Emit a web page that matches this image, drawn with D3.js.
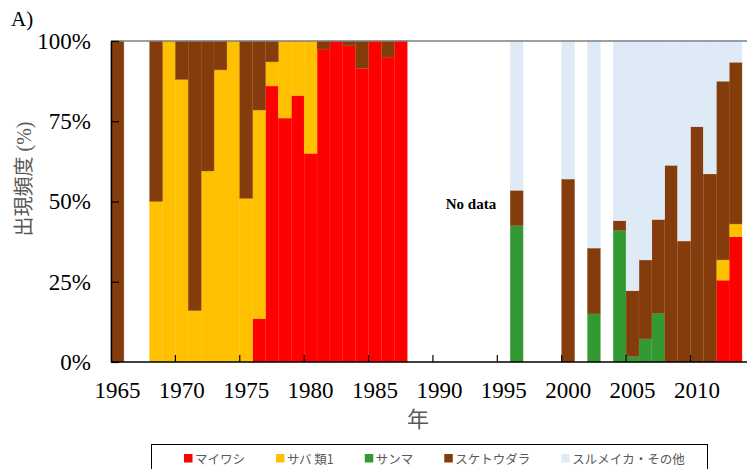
<!DOCTYPE html>
<html>
<head>
<meta charset="utf-8">
<script src="https://cdn.jsdelivr.net/npm/d3@7"></script>
<style>
  html, body { margin: 0; padding: 0; background: #fff; }
  svg { display: block; }
</style>
</head>
<body>
<svg id="chart" width="747" height="469"></svg>
<script>
// Survey years (one slot per year; null = no data that year)
const years = d3.range(1965, 2014);

// Share of appearance (%) by group, bottom of stack first
const maiwashi = [ // マイワシ
  null, null, null, null, null, null, null, null, null, null, null, 13.5, 86, 76, 83, 65, 97.5, 100, 98.5, 91.5, 100, 95, 100,
  null, null, null, null, null, null, null, null, null, null, null, null, null, null, null, null, null, null, null, null, null, null, null, null, 25.5, 39
];
const saba = [ // サバ類
  null, null, null, 50, 100, 88, 16, 59.5, 91, 100, 51, 65, 7.5, 24, 17, 35, null, null, null, null, null, null, null,
  null, null, null, null, null, null, null, null, null, null, null, null, null, null, null, null, null, null, null, null, null, null, null, null, 6.3, 4
];
const sanma = [ // サンマ
  null, null, null, null, null, null, null, null, null, null, null, null, null, null, null, null, null, null, null, null, null, null, null,
  null, null, null, null, null, null, null, null, 42.5, null, null, null, null, null, 15, null, 41, 1.7, 7.2, 15.2, null, null, null, null, null, null
];
const suketoudara = [ // スケトウダラ
  100, null, null, 50, null, 12, 84, 40.5, 9, null, 49, 21.5, 6.5, null, null, null, 2.5, null, 1.5, 8.5, null, 5, null,
  null, null, null, null, null, null, null, null, 11, null, null, null, 57, null, 20.5, null, 3, 20.5, 24.6, 29.2, 61.3, 37.7, 73.3, 58.6, 55.7, 50.4
];
const surumeika = [ // スルメイカ・その他
  null, null, null, null, null, null, null, null, null, null, null, null, null, null, null, null, null, null, null, null, null, null, null,
  null, null, null, null, null, null, null, null, 46.5, null, null, null, 43, null, 64.5, null, 56, 77.8, 68.2, 55.6, 38.7, 62.3, 26.7, 41.4, 12.5, 6.6
];

const seriesNames = ["マイワシ", "サバ 類1", "サンマ", "スケトウダラ", "スルメイカ・その他"];
const seriesValues = [maiwashi, saba, sanma, suketoudara, surumeika];
const seriesColors = ["#ff0000", "#ffc000", "#339933", "#843c0c", "#deebf7"];
const seriesEdges = ["#ff2a1a", "#ffc61a", "#5cb04a", "#9a5a2e", "#deebf7"];

const yTicks = [0, 25, 50, 75, 100];
const xLabelYears = [1965, 1970, 1975, 1980, 1985, 1990, 1995, 2000, 2005, 2010];
const xTickYears = [1970, 1975, 1980, 1985, 1990, 1995, 2000, 2005, 2010];

const svg = d3.select("#chart");
const plot = { left: 111, right: 742, top: 41, bottom: 362, lineEnd: 747 };

const x = d3.scaleBand().domain(years).range([plot.left, plot.right]).padding(0);
const y = d3.scaleLinear().domain([0, 100]).range([plot.bottom, plot.top]);

// Build the rows for d3.stack
const keys = seriesNames.map((_, i) => "s" + i);
const rows = years.map((yr, j) => {
  const r = { year: yr };
  keys.forEach((k, i) => { r[k] = seriesValues[i][j] || 0; });
  return r;
});
const stacked = d3.stack().keys(keys)(rows);

const serif = "'Liberation Serif', 'Times New Roman', serif";
const cjk = "'Noto Sans CJK JP', 'Noto Sans', sans-serif";

// Stacked bars
stacked.forEach((layer, i) => {
  svg.append("g")
    .selectAll("rect")
    .data(layer.filter(d => d[1] - d[0] > 0))
    .join("rect")
    .attr("x", d => x(d.data.year))
    .attr("width", x.bandwidth())
    .attr("y", d => y(d[1]))
    .attr("height", d => y(d[0]) - y(d[1]))
    .attr("fill", seriesColors[i])
    .attr("stroke", seriesEdges[i])
    .attr("stroke-width", 0.4);
});

// Top frame line
svg.append("line")
  .attr("x1", plot.left).attr("x2", plot.lineEnd)
  .attr("y1", plot.top).attr("y2", plot.top)
  .attr("stroke", "#7f7f7f").attr("stroke-width", 1.5);

// Y axis
const yAxis = svg.append("g")
  .attr("transform", `translate(${plot.left},0)`)
  .call(d3.axisLeft(y).tickValues(yTicks).tickFormat(d => d + "%")
    .tickSizeInner(-8).tickSizeOuter(0).tickPadding(20));
yAxis.select(".domain").attr("stroke", "#000").attr("stroke-width", 1.5);
yAxis.selectAll(".tick line").attr("stroke", "#000").attr("stroke-width", 1.2);
yAxis.selectAll("text").attr("font-family", serif).attr("font-size", 23).attr("fill", "#000");

// X axis labels (centred on each year's bar)
const xAxis = svg.append("g")
  .attr("transform", `translate(0,${plot.bottom})`)
  .call(d3.axisBottom(x).tickValues(xLabelYears).tickSize(0).tickPadding(20));
xAxis.select(".domain").remove();
xAxis.selectAll("text").attr("font-family", serif).attr("font-size", 23).attr("fill", "#000");

// Baseline
svg.append("line")
  .attr("x1", plot.left).attr("x2", plot.lineEnd)
  .attr("y1", plot.bottom).attr("y2", plot.bottom)
  .attr("stroke", "#000").attr("stroke-width", 1.5);

// X tick marks at every fifth year boundary, pointing inward
svg.append("g").selectAll("line")
  .data(xTickYears)
  .join("line")
  .attr("x1", d => x(d)).attr("x2", d => x(d))
  .attr("y1", plot.bottom).attr("y2", plot.bottom - 7)
  .attr("stroke", "#000").attr("stroke-width", 1.2);

// Panel label
svg.append("text")
  .attr("x", 11).attr("y", 26)
  .attr("font-family", serif).attr("font-size", 21).attr("fill", "#000")
  .text("A)");

// Y axis title (Japanese words with a serif unit)
const yTitle = svg.append("text")
  .attr("transform", "translate(31,179) rotate(-90)")
  .attr("text-anchor", "middle")
  .attr("font-size", 20).attr("fill", "#595959");
yTitle.append("tspan").attr("font-family", cjk).text("出現頻度");
yTitle.append("tspan").attr("font-family", serif).text(" (%)");

// X axis title
svg.append("text")
  .attr("x", 418).attr("y", 427)
  .attr("text-anchor", "middle")
  .attr("font-family", cjk).attr("font-size", 22).attr("fill", "#595959")
  .text("年");

// Gap annotation
svg.append("text")
  .attr("x", 471).attr("y", 209)
  .attr("text-anchor", "middle")
  .attr("font-family", serif).attr("font-weight", "bold").attr("font-size", 15).attr("fill", "#000")
  .text("No data");

// Legend
svg.append("rect")
  .attr("x", 151.5).attr("y", 444.5).attr("width", 556).attr("height", 40)
  .attr("fill", "#fff").attr("stroke", "#000").attr("stroke-width", 1);

let lx = 184;
seriesNames.forEach((name, i) => {
  const g = svg.append("g");
  g.append("rect")
    .attr("x", lx).attr("y", 454).attr("width", 8.5).attr("height", 8.5)
    .attr("fill", seriesColors[i]);
  const t = g.append("text")
    .attr("x", lx + 11).attr("y", 464)
    .attr("font-family", cjk).attr("font-size", 12.5).attr("fill", "#595959")
    .text(name);
  lx += 11 + t.node().getComputedTextLength() + 31;
});
</script>
</body>
</html>
